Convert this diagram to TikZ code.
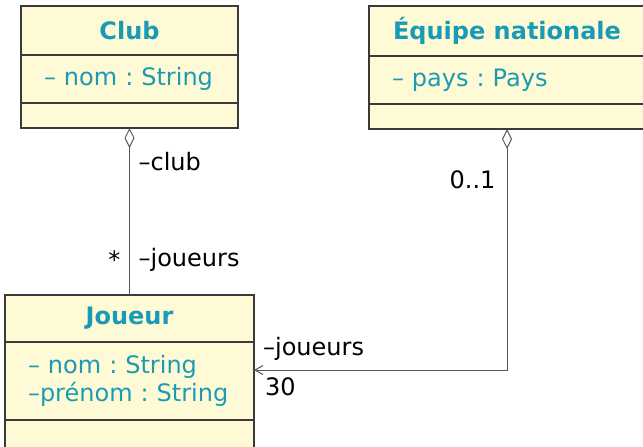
\documentclass[tikz,border=0pt]{standalone}
\usepackage{fontspec}
\setmainfont{DejaVu Sans}
\usepackage{xcolor}
\usetikzlibrary{arrows.meta,positioning}

\definecolor{classfill}{HTML}{FFFAD6}
\definecolor{classtext}{HTML}{1A9BB5}
\definecolor{classline}{HTML}{3A3A3A}
\definecolor{assocline}{HTML}{555555}

\begin{document}
\frenchspacing
\begin{tikzpicture}[
    x=0.5pt, y=-0.5pt,
    every node/.style={font=\fontsize{12}{14}\selectfont},
    classtitle/.style={draw=classline, line width=0.6pt, fill=classfill, text=classtext, font=\fontsize{12}{14}\selectfont\bfseries, inner sep=0pt, outer sep=0pt, minimum height=24.5pt},
    classpart/.style={draw=classline, line width=0.6pt, fill=classfill, text=classtext, align=left, inner xsep=11.5pt, inner ysep=0pt, outer sep=0pt, minimum height=24pt},
    role/.style={inner sep=0pt, text=black},
    agg/.style={draw=assocline, line width=0.5pt, {Diamond[open, length=10pt, width=5pt]}-},
    aggnav/.style={draw=assocline, line width=0.5pt, {Diamond[open, length=10pt, width=5pt]}-{Straight Barb[length=4pt, width=4.5pt]}},
]
    \useasboundingbox (0,0) rectangle (643,446);

    % Club
    \node[classtitle, minimum width=108.5pt] (club) at (129.5,30.5) {Club};
    \node[classpart, text width=85.5pt, below=0pt of club] (club-attr) {– nom : String};
    \node[classpart, text width=85.5pt, minimum height=12.5pt, below=0pt of club-attr] (club-ops) {};

    % Equipe nationale
    \node[classtitle, minimum width=138pt, minimum height=25pt] (equipe) at (507,31) {Équipe nationale};
    \node[classpart, text width=115pt, below=0pt of equipe] (equipe-attr) {– pays : Pays};
    \node[classpart, text width=115pt, minimum height=12.5pt, below=0pt of equipe-attr] (equipe-ops) {};

    % Joueur
    \node[classtitle, minimum width=124.5pt, minimum height=23.5pt] (joueur) at (129.5,318.5) {Joueur};
    \node[classpart, text width=101.5pt, minimum height=39pt, below=0pt of joueur] (joueur-attr) {– nom : String\\–prénom : String};
    \node[classpart, text width=101.5pt, minimum height=14pt, below=0pt of joueur-attr] (joueur-ops) {};

    % Associations
    \draw[agg] (club-ops.south) -- node[role, pos=0.2, anchor=west, xshift=4.3pt] (club-role) {–club}
        node[role, pos=0.79, anchor=west, xshift=4.3pt] (club-joueurs) {–joueurs}
        node[role, pos=0.79, anchor=east, xshift=-4.3pt] (club-mult) {*} (joueur.north);

    \draw[aggnav] (equipe-ops.south) |- node[role, pos=0.106, anchor=east, xshift=-5.5pt] (equipe-mult) {0..1}
        node[role, pos=1, anchor=south west, xshift=4.3pt, yshift=4.5pt] (equipe-joueurs) {–joueurs}
        node[role, pos=1, anchor=north west, xshift=5.3pt, yshift=-3.5pt] (equipe-max) {30}
        ([yshift=-14pt]joueur-attr.north east);
\end{tikzpicture}
\end{document}
